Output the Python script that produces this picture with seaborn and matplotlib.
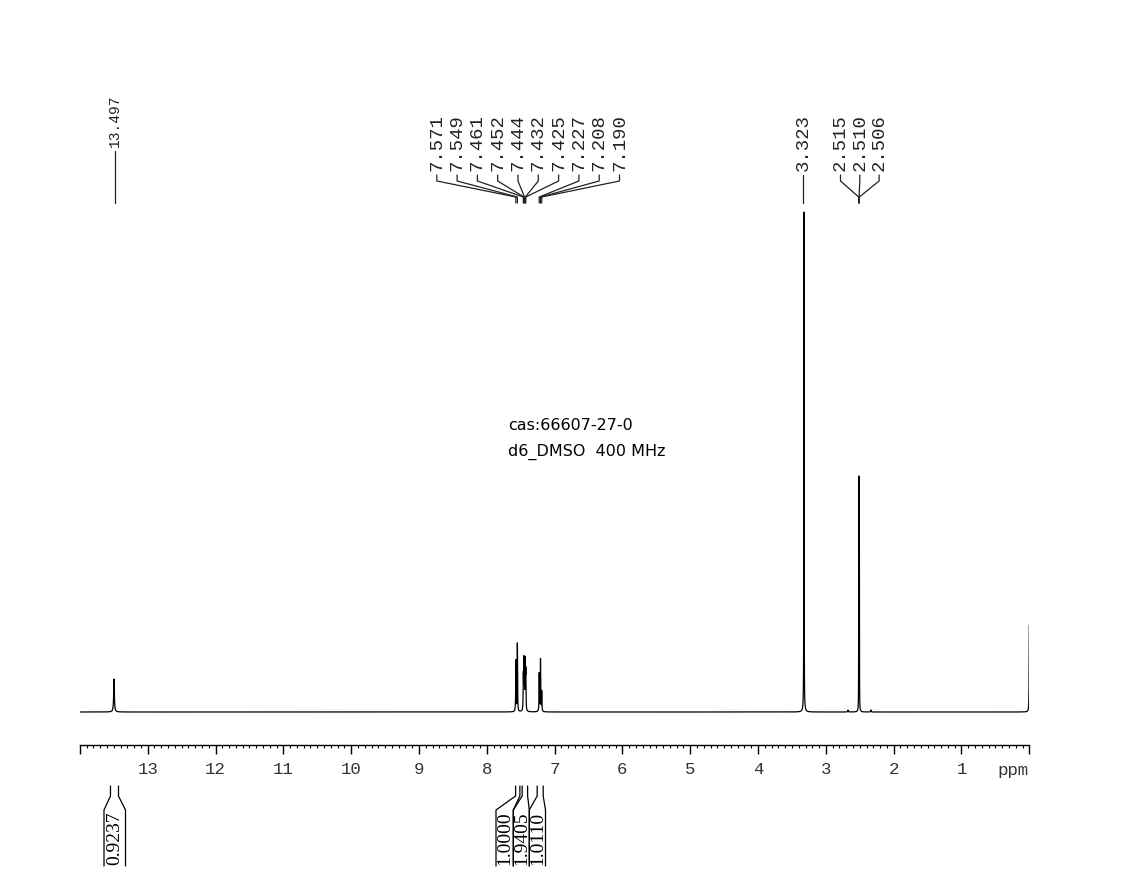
import numpy as np
import pandas as pd
import matplotlib
matplotlib.use("Agg")
import matplotlib.pyplot as plt
import seaborn as sns

# ---------------- data ----------------
# peak list: chemical shift (ppm), height (arb. units), half width (ppm)
peak_ppm = [13.497, 7.571, 7.549, 7.461, 7.452, 7.444, 7.432, 7.425,
            7.227, 7.208, 7.190, 3.323, 2.674, 2.515, 2.510, 2.506, 2.336, 0.000]
peak_height = [33, 51, 68, 34, 46, 44, 46, 36,
               38, 52, 20, 500, 2, 175, 212, 175, 2, 87]
peak_hwhm = [0.006, 0.003, 0.003, 0.003, 0.003, 0.003, 0.003, 0.003,
             0.003, 0.003, 0.003, 0.002, 0.004, 0.0012, 0.0012, 0.0012, 0.004, 0.003]

# peak labels (groups)
label_group_1 = [13.497]
label_group_2 = [7.571, 7.549, 7.461, 7.452, 7.444, 7.432, 7.425, 7.227, 7.208, 7.190]
label_group_3 = [3.323]
label_group_4 = [2.515, 2.510, 2.506]

# integrals
integral_regions = [(13.549, 13.431), (7.575, 7.512), (7.478, 7.398), (7.257, 7.168)]
integral_values = ["0.9237", "1.0000", "1.9405", "1.0110"]

tick_values = list(range(0, 15))
tick_labels = ["" if t in (0, 14) else str(t) for t in tick_values]

info_lines = ["cas:66607-27-0", "d6_DMSO  400 MHz"]

# ---------------- spectrum ----------------
ppm = np.linspace(14.0, 0.0, 56001)
intensity = np.zeros_like(ppm)
for p, h, w in zip(peak_ppm, peak_height, peak_hwhm):
    intensity += h / (1.0 + ((ppm - p) / w) ** 2)
spec = pd.DataFrame({"ppm": ppm, "intensity": intensity})

W, H = 1133, 896
sns.set_style("white")
fig = plt.figure(figsize=(W / 100, H / 100), dpi=100)
fig.patch.set_facecolor("white")

ax = fig.add_axes([79.9 / W, 151 / H, 949.4 / W, 645 / H])
sns.lineplot(data=spec, x="ppm", y="intensity", ax=ax, color="black",
             linewidth=0.9, estimator=None, sort=False, errorbar=None)
ax.set_xlim(14, 0)
ax.set_ylim(-33, 612)
ax.set_xlabel("")
ax.set_ylabel("")
ax.set_yticks([])
for s in ("left", "top", "right"):
    ax.spines[s].set_visible(False)
ax.spines["bottom"].set_color("black")
ax.spines["bottom"].set_linewidth(1.0)
ax.set_xticks(tick_values)
ax.set_xticklabels(tick_labels, fontfamily="Liberation Mono", fontsize=12.5, color="#333333")
ax.set_xticks(np.round(np.arange(0, 14.0001, 0.1), 1), minor=True)
ax.tick_params(axis="x", which="major", direction="out", length=6.5, width=1.0,
               color="black", pad=6, bottom=True)
ax.tick_params(axis="x", which="minor", direction="out", length=2.0, width=0.8,
               color="black", bottom=True)
ax.patch.set_alpha(0)

fig.canvas.draw()


def px(p):
    return ax.transData.transform((p, 0))[0]


# overlay axes in pixel coordinates (y down)
ov = fig.add_axes([0, 0, 1, 1], zorder=3)
ov.set_xlim(0, W)
ov.set_ylim(H, 0)
ov.axis("off")
ov.patch.set_alpha(0)

ov.text(1013, 771, "ppm", ha="center", va="center", fontsize=12.5,
        fontfamily="Liberation Mono", color="#333333")

LCOL = "#222222"


def draw_label(text, x, bottom, size=13.7):
    ov.text(x, bottom, text, rotation=90, ha="center", va="bottom",
            fontsize=size, fontfamily="Liberation Mono", color=LCOL)


# single labels
for v in label_group_1:
    x = 115
    draw_label(f"{v:.3f}", x, 147, size=10.5)
    ov.plot([x, x], [151, 203], color=LCOL, lw=0.9)
for v in label_group_3:
    x = 803
    draw_label(f"{v:.3f}", x, 171)
    ov.plot([x, x], [175, 203], color=LCOL, lw=0.9)

# grouped labels
for vals, x0, dx in [(label_group_2, 436.8, 20.3), (label_group_4, 840.5, 19.3)]:
    for i, v in enumerate(vals):
        x = x0 + dx * i
        xp = px(v)
        draw_label(f"{v:.3f}", x, 171)
        ov.plot([x, x, xp, xp], [175, 181, 197, 203], color=LCOL, lw=0.9)

# integrals
boxes = [(104, 125.5), (496, 513.3), (513.3, 529.3), (529.3, 545.5)]
for (p1, p2), val, (b1, b2) in zip(integral_regions, integral_values, boxes):
    x1, x2 = px(p1), px(p2)
    ov.plot([x1, x1, b1, b1], [786, 796, 810, 866], color="black", lw=0.9)
    ov.plot([x2, x2, b2, b2], [786, 796, 810, 866], color="black", lw=0.9)
    ov.text((b1 + b2) / 2 + 0.5, 838, val, rotation=90, ha="center", va="center",
            fontsize=14, fontfamily="Liberation Serif", color="black")

# info text
for i, line in enumerate(info_lines):
    ov.text(508, 425 + 27 * i, line, ha="left", va="center", fontsize=11.5,
            fontfamily="DejaVu Sans", color="black")

fig.savefig("out.png", dpi=100, facecolor="white")
